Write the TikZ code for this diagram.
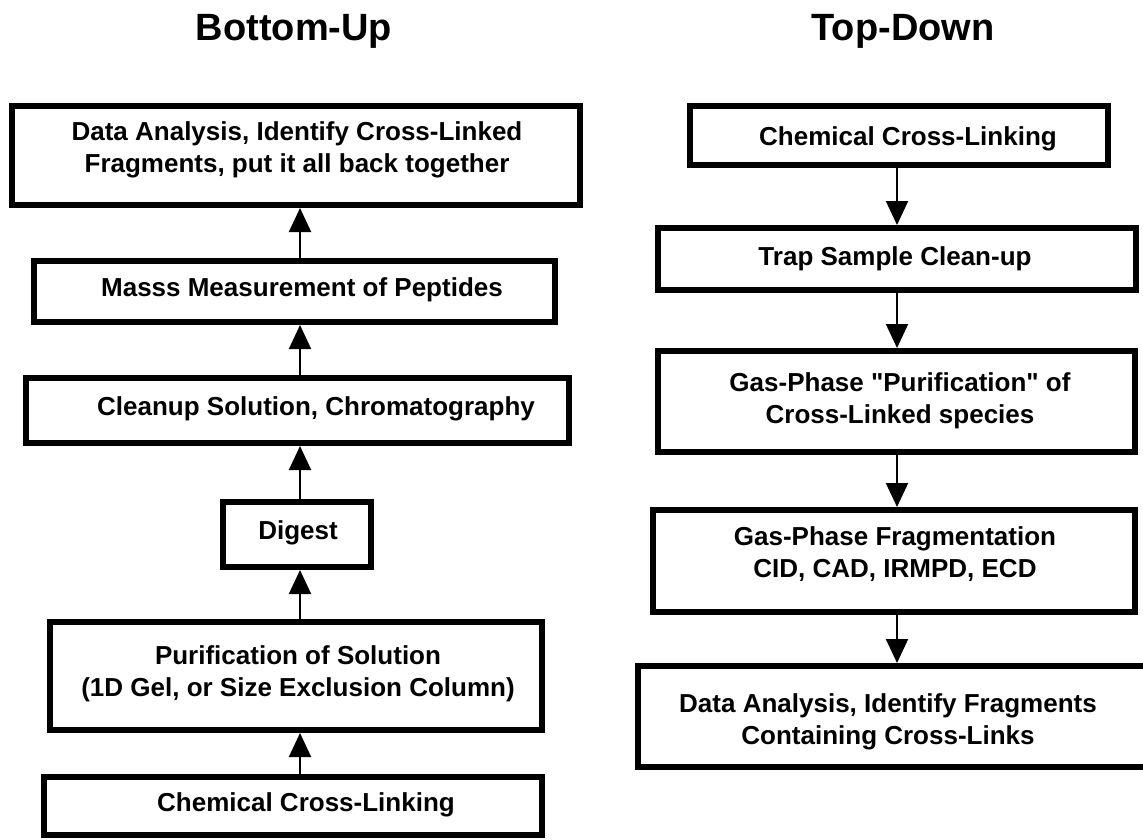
\documentclass[tikz,border=0pt]{standalone}
\usepackage{fontspec}
\setmainfont{Liberation Sans}
\usetikzlibrary{arrows.meta}
\newcommand{\sq}{\XeTeXglyph\XeTeXcharglyph"22\relax}
\begin{document}
\begin{tikzpicture}[x=1pt,y=-1pt,
  box/.style={draw=black,line width=6pt,fill=white,rectangle,inner sep=0pt},
  lbl/.style={inner sep=0pt,align=center,font=\bfseries\fontsize{26}{32}\selectfont},
  ttl/.style={inner sep=0pt,font=\bfseries\fontsize{38}{44}\selectfont},
  arr/.style={line width=2pt,-{Triangle[length=24pt,width=22pt]}}]
\useasboundingbox[fill=white] (0,0) rectangle (1143,839);
% titles
\node[ttl] (tbu) at (294,31) {Bottom-Up};
\node[ttl] (ttd) at (903,31) {Top-Down};
% left boxes
\node[box,minimum width=568pt,minimum height=99pt] (b1) at (296,155.5) {};
\node[box,minimum width=521pt,minimum height=61pt] (b2) at (294.5,291.5) {};
\node[box,minimum width=543pt,minimum height=65pt] (b3) at (297.5,410.5) {};
\node[box,minimum width=148pt,minimum height=65pt] (b4) at (297,534.5) {};
\node[box,minimum width=492pt,minimum height=108pt] (b5) at (296,676) {};
\node[box,minimum width=498pt,minimum height=58pt] (b6) at (293,806) {};
% right boxes
\node[box,minimum width=418pt,minimum height=59pt] (r1) at (899,135.5) {};
\node[box,minimum width=478pt,minimum height=62pt] (r2) at (897,259) {};
\node[box,minimum width=477pt,minimum height=101pt] (r3) at (896.5,401.5) {};
\node[box,minimum width=482pt,minimum height=102pt] (r4) at (894,561) {};
\node[box,minimum width=509pt,minimum height=101pt] (r5) at (892.5,716.5) {};
% texts
\node[lbl] (t1) at (297,150) {Data Analysis, Identify Cross-Linked\\Fragments, put it all back together};
\node[lbl] (t2) at (302,290) {Masss Measurement of Peptides};
\node[lbl] (t3) at (316,409) {Cleanup Solution, Chromatography};
\node[lbl] (t4) at (298,533) {Digest};
\node[lbl] (t5) at (298,674) {Purification of Solution\\(1D Gel, or Size Exclusion Column)};
\node[lbl] (t6) at (306,805) {Chemical Cross-Linking};
\node[lbl] (u1) at (908,139) {Chemical Cross-Linking};
\node[lbl] (u2) at (895,259) {Trap Sample Clean-up};
\node[lbl] (u3) at (900,401) {Gas-Phase \sq Purification\sq{} of\\Cross-Linked species};
\node[lbl] (u4) at (895,554) {Gas-Phase Fragmentation\\CID, CAD, IRMPD, ECD};
\node[lbl] (u5) at (888,722) {Data Analysis, Identify Fragments\\Containing Cross-Links};
% arrows
\coordinate (L) at (300,0);
\coordinate (R) at (897,0);
\draw[arr] (L |- b2.north) -- (L |- b1.south);
\draw[arr] (L |- b3.north) -- (L |- b2.south);
\draw[arr] (L |- b4.north) -- (L |- b3.south);
\draw[arr] (L |- b5.north) -- (L |- b4.south);
\draw[arr] (L |- b6.north) -- (L |- b5.south);
\draw[arr] (R |- r1.south) -- (R |- r2.north);
\draw[arr] (R |- r2.south) -- (R |- r3.north);
\draw[arr] (R |- r3.south) -- (R |- r4.north);
\draw[arr] (R |- r4.south) -- (R |- r5.north);
\end{tikzpicture}
\end{document}
